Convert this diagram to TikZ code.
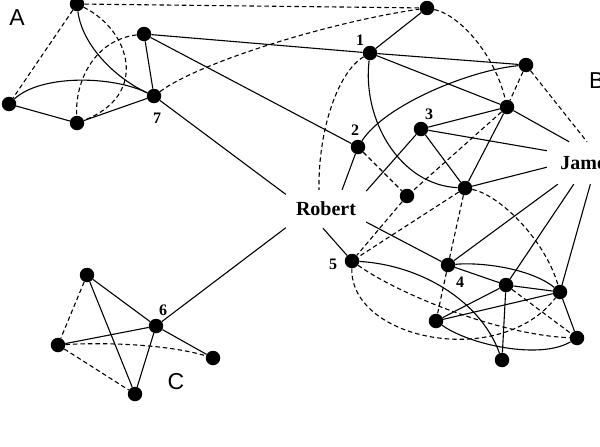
\documentclass[tikz,border=0pt]{standalone}
\usepackage{fontspec}
\setmainfont{Liberation Serif}
\newfontfamily\labfont{Liberation Sans}
\begin{document}
\begin{tikzpicture}[x=1pt,y=-1pt,
  dot/.style={circle, fill=black, inner sep=0pt, minimum size=14.5pt},
  edge/.style={line width=1.1pt},
  dedge/.style={line width=1.1pt, dash pattern=on 4.5pt off 3pt},
  num/.style={font=\bfseries\fontsize{16}{16}\selectfont, inner sep=0pt},
  person/.style={font=\bfseries\fontsize{20}{20}\selectfont, inner sep=0pt, rectangle},
  grp/.style={font=\labfont\fontsize{23}{23}\selectfont, inner sep=0pt}]
\useasboundingbox (0,0) rectangle (600,447);
% nodes
\node[dot] (a1) at (77,4) {};
\node[dot] (a2) at (144,34) {};
\node[dot] (a3) at (9,104) {};
\node[dot] (a4) at (77,123) {};
\node[dot] (n7) at (154,96) {};
\node[dot] (t)  at (427,8) {};
\node[dot] (n1) at (370,53) {};
\node[dot] (b1) at (526,65) {};
\node[dot] (b2) at (507,107) {};
\node[dot] (n3) at (421,129) {};
\node[dot] (n2) at (358,147) {};
\node[dot] (n8) at (407,196) {};
\node[dot] (n9) at (465,188) {};
\node[dot] (n5) at (352,261) {};
\node[dot] (n4) at (448,265) {};
\node[dot] (b3) at (506,285) {};
\node[dot] (b4) at (560,292) {};
\node[dot] (b5) at (436,321) {};
\node[dot] (b6) at (577,338) {};
\node[dot] (b7) at (502,360) {};
\node[dot] (c1) at (87,275) {};
\node[dot] (n6) at (156,326) {};
\node[dot] (c2) at (58,345) {};
\node[dot] (c3) at (213,358) {};
\node[dot] (c4) at (135,394) {};
\node[person, minimum width=80pt, minimum height=38pt] (Robert) at (326,209) {Robert};
\node[person, minimum width=80pt, minimum height=42pt] (James) at (587,163) {James};
% labels
\node[num] (l1) at (360,40) {1};
\node[num] (l2) at (355,130) {2};
\node[num] (l3) at (429,114) {3};
\node[num] (l4) at (460,282) {4};
\node[num] (l5) at (333,264) {5};
\node[num] (l6) at (163,310) {6};
\node[num] (l7) at (157,118) {7};
\node[grp] (gA) at (17,18) {A};
\node[grp, anchor=west] (gB) at (589,81) {B};
\node[grp] (gC) at (176,382) {C};
% group A
\draw[dedge] (a1) -- (a3);
\draw[dedge] (a1) -- (t);
\draw[dedge] (a1) .. controls (130,30) and (150,95) .. (a4);
\draw[dedge] (a2) .. controls (95,40) and (75,80) .. (a4);
\draw[dedge] (n7) .. controls (200,62) and (330,22) .. (t);
\draw[edge] (a1) .. controls (82,45) and (115,78) .. (n7);
\draw[edge] (a3) .. controls (40,75) and (110,75) .. (n7);
\draw[edge] (a3) -- (a4);
\draw[edge] (a4) -- (n7);
\draw[edge] (a2) -- (n7);
\draw[edge] (a2) -- (n1);
\draw[edge] (a2) -- (n2);
\draw[edge] (n7) -- (Robert.160);
% group B
\draw[edge] (n1) -- (t);
\draw[edge] (n1) -- (b1);
\draw[edge] (n1) -- (b2);
\draw[edge] (n1) .. controls (362,120) and (400,185) .. (n9);
\draw[dedge] (n1) .. controls (338,72) and (318,130) .. (Robert.110);
\draw[edge] (n2) .. controls (385,105) and (470,70) .. (b1);
\draw[dedge] (t) .. controls (460,15) and (495,55) .. (b2);
\draw[dedge] (b1) -- (b2);
\draw[dedge] (b1) -- (James.90);
\draw[edge] (b2) -- (James.130);
\draw[edge] (b2) -- (n9);
\draw[dedge] (b2) -- (n8);
\draw[edge] (n3) -- (b2);
\draw[edge] (n3) -- (James.163);
\draw[edge] (n3) -- (n9);
\draw[edge] (n3) -- (Robert.24);
\draw[edge] (n2) -- (Robert.50);
\draw[dedge] (n2) -- (n8);
\draw[dedge] (n8) -- (n5);
\draw[dedge] (n9) -- (n5);
\draw[dedge] (n9) -- (n4);
\draw[edge] (n9) -- (James.-174);
\draw[dedge] (n9) .. controls (500,195) and (545,240) .. (b4);
\draw[edge] (Robert.-18) -- (n4);
\draw[edge] (Robert.-99) -- (n5);
\draw[edge] (James.-144) -- (n4);
\draw[edge] (James.-122) -- (b3);
\draw[edge] (James.-81) -- (b4);
\draw[edge] (n4) -- (b3);
\draw[edge] (n4) .. controls (480,262) and (530,268) .. (b4);
\draw[dedge] (n4) -- (b5);
\draw[edge] (b3) -- (b4);
\draw[edge] (b3) -- (b5);
\draw[edge] (b4) -- (b5);
\draw[edge] (b3) -- (b7);
\draw[edge] (b4) -- (b6);
\draw[dedge] (b3) -- (b6);
\draw[edge] (b5) .. controls (470,345) and (540,360) .. (b6);
\draw[edge] (n5) .. controls (420,265) and (480,300) .. (b7);
\draw[dedge] (n5) .. controls (350,340) and (500,370) .. (b4);
\draw[dedge] (n5) .. controls (400,295) and (500,335) .. (b6);
% group C
\draw[edge] (Robert.-155) -- (n6);
\draw[dedge] (c1) -- (c2);
\draw[edge] (c1) -- (n6);
\draw[edge] (c1) -- (c4);
\draw[edge] (c2) -- (n6);
\draw[dedge] (c2) .. controls (110,342) and (170,345) .. (c3);
\draw[dedge] (c2) -- (c4);
\draw[edge] (n6) -- (c3);
\draw[edge] (n6) -- (c4);
\end{tikzpicture}
\end{document}
